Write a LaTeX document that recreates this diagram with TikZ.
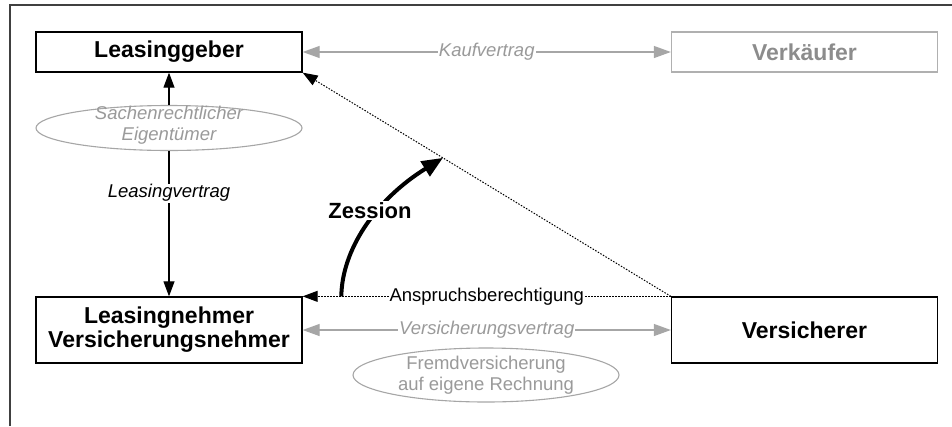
\documentclass[tikz,border=0pt]{standalone}
\usepackage{fontspec}
\setmainfont{Liberation Sans}
\usetikzlibrary{arrows.meta,shapes.geometric,calc}

\definecolor{framecol}{HTML}{404040}
\definecolor{greytext}{HTML}{9A9A9A}
\definecolor{greyline}{HTML}{A6A6A6}
\definecolor{greybox}{HTML}{B0B0B0}
\definecolor{greyname}{HTML}{8C8C8C}

\tikzset{
  party/.style={draw, line width=1.3pt, minimum width=266pt, inner sep=0pt,
    align=center, font=\fontsize{23}{26}\selectfont\bfseries},
  note/.style={draw=greyline, line width=1.1pt, ellipse, fill=white,
    minimum width=266pt, inner sep=0pt},
  notetext/.style={align=center, text=greytext, inner sep=0pt,
    font=\fontsize{18.5}{21}\selectfont},
  lbl/.style={fill=white, inner sep=1pt, font=\fontsize{18.5}{21}\selectfont},
  blackhead/.style={-{Triangle[length=15pt,width=11pt]}},
  greyarrow/.style={draw=greyline, line width=1.2pt,
    {Triangle[length=17pt,width=12pt]}-{Triangle[length=17pt,width=12pt]}},
  claim/.style={dash pattern=on 1.5pt off 1.5pt, line width=1pt, blackhead},
  zession/.style={line width=4pt, -{Triangle[length=21pt,width=17pt]}}
}

\begin{document}
\begin{tikzpicture}[x=1pt,y=-1pt]
  \useasboundingbox (0,0) rectangle (952,426);

  % outer frame: only the top and left edges are drawn
  \draw[framecol, line width=1.5pt] (10,426) -- (10,5) -- (952,5);

  % parties
  \node[party, minimum height=40pt] (lg) at (169,52) {Leasinggeber};
  \node[party, minimum height=40pt, draw=greybox, text=greyname] (vk) at (804.5,52) {Verkäufer};
  \node[party, minimum height=66pt] (ln) at (169,330) {Leasingnehmer\\[-2pt]Versicherungsnehmer};
  \node[party, minimum height=66pt] (vs) at (804.5,330) {Versicherer};

  % remarks in ellipses
  \node[note, minimum height=45pt] (eig) at (169,128) {};
  \node[notetext, font=\fontsize{18.5}{21}\selectfont\itshape] (eigt) at (169,125.5)
    {Sachenrechtlicher\\Eigentümer};
  \node[note, minimum height=54pt] (frv) at (486,375) {};
  \node[notetext] (frvt) at (486,375) {Fremdversicherung\\auf eigene Rechnung};

  % ownership and leasing contract
  \draw[line width=1.1pt, blackhead] (eig.north) -- (lg.south);
  \draw[line width=1.1pt, blackhead] (eig.south) --
    node[lbl, pos=0.29, font=\fontsize{18.5}{21}\selectfont\itshape] (lv) {Leasingvertrag} (ln.north);

  % purchase and insurance contracts
  \draw[greyarrow] (lg.east) --
    node[lbl, text=greytext, font=\fontsize{18.5}{21}\selectfont\itshape] (kv) {Kaufvertrag} (vk.west);
  \draw[greyarrow] (ln.east) --
    node[lbl, text=greytext, font=\fontsize{18.5}{21}\selectfont\itshape] (vv) {Versicherungsvertrag} (vs.west);

  % entitlement to the insurance claim
  \draw[claim] (vs.north west) -- (lg.south east);
  \draw[claim] (vs.north west) -- node[lbl] (ab) {Anspruchsberechtigung} (ln.north east);

  % assignment of the claim
  \coordinate (z0) at ($(ln.north east)!0.105!(vs.north west)$);
  \coordinate (z1) at ($(vs.north west)!0.619!(lg.south east)$);
  \draw[zession] (z0) .. controls (342,250) and (375,200) .. (z1);
  \node[fill=white, inner sep=1.5pt, anchor=base, font=\fontsize{22}{26}\selectfont\bfseries]
    (zs) at (370,218) {Zession};
\end{tikzpicture}
\end{document}
